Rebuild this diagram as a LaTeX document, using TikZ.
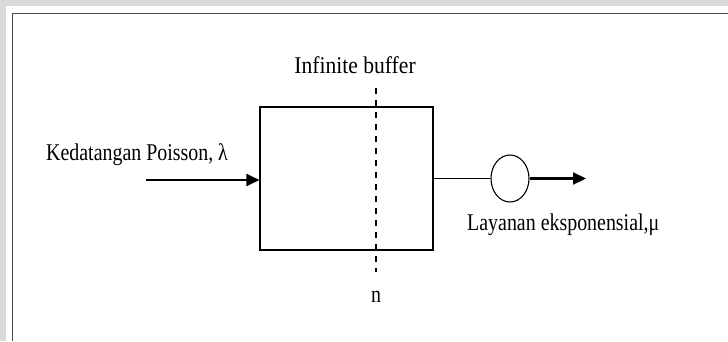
\documentclass[tikz,border=0pt]{standalone}
\usepackage{fontspec}
\setmainfont{Liberation Serif}[FakeStretch=0.83]
\newfontfamily\widerserif{Liberation Serif}[FakeStretch=0.9]
\usetikzlibrary{arrows.meta,shapes.geometric}
\begin{document}
\begin{tikzpicture}[x=1pt,y=-1pt,
  lbl/.style={inner sep=0pt,font=\fontsize{24}{26}\selectfont},
  thickarrow/.style={line width=2.2pt,-{Triangle[length=13pt,width=12pt]}},
  thinline/.style={line width=1.1pt},
  frameline/.style={draw=black!70,line width=1.8pt}]
\useasboundingbox (0,0) rectangle (728,341);
\fill[gray!30] (0,0) rectangle (728,341);
\fill[white] (6,6) rectangle (728,341);
\coordinate (fb) at (12.5,341);
\coordinate (fc) at (12.5,13.5);
\coordinate (fr) at (728,13.5);
\draw[frameline] (fb) -- (fc) -- (fr);
% buffer box
\node[draw,thinline,minimum width=173pt,minimum height=143pt,inner sep=0pt] (box) at (346.5,178.5) {};
% dashed line
\coordinate (dt) at (376,88);
\coordinate (db) at (376,272);
\draw[thinline,dash pattern=on 6pt off 6pt] (dt) -- (db);
% server
\node[ellipse,draw,thinline,minimum width=38pt,minimum height=47pt,inner sep=0pt] (srv) at (510,178.5) {};
% arrows
\coordinate (in) at (146,180);
\draw[thickarrow] (in) -- (in -| box.west);
\draw[thinline] (box.east |- srv.west) -- (srv.west);
\coordinate (out) at (586,178.5);
\draw[thickarrow] (srv.east) -- (out);
% labels
\node[lbl,font=\fontsize{24}{26}\widerserif] (tb) at (355,65) {Infinite buffer};
\node[lbl,anchor=west] (tin) at (46,155) {Kedatangan Poisson, λ};
\node[lbl,anchor=west] (tout) at (467,225) {Layanan eksponensial,μ};
\node[lbl] (tn) at (376,297) {n};
\end{tikzpicture}
\end{document}
